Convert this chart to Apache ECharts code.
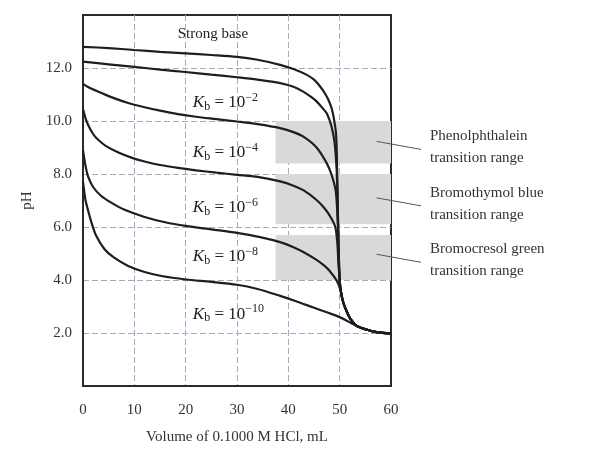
<!DOCTYPE html>
<html>
<head>
<meta charset="utf-8">
<script src="https://cdn.jsdelivr.net/npm/echarts@6/dist/echarts.min.js"></script>
<style>
  html, body { margin: 0; padding: 0; background: #fff; }
  #chart { width: 589px; height: 450px; }
</style>
</head>
<body>
<div id="chart"></div>
<script>
// volume of HCl (mL) vs pH
var strongBase = [[0,12.8],[5,12.75],[10,12.68],[15,12.61],[20,12.55],[25,12.49],[30,12.42],[34,12.31],[38.4,12.12],[41,11.96],[43.6,11.74],[45,11.56],[46.2,11.3],[47.2,11.02],[47.8,10.8],[48.4,10.5],[48.8,10.17],[49.3,9.5],[49.5,8.2],[49.65,6.5],[49.8,4.8],[50,4],[50.2,3.6],[50.7,3.15],[51.4,2.8],[52.2,2.5],[53.3,2.27],[55.2,2.13],[57.2,2.03],[60,1.98]];
var kb2 = [[0,12.24],[5,12.14],[10,12.04],[15,11.94],[20,11.85],[25,11.75],[30,11.65],[34,11.56],[38.4,11.43],[41,11.29],[42.9,11.11],[44.5,10.9],[45.5,10.74],[46.6,10.5],[47.5,10.28],[48.4,9.8],[49,9.2],[49.4,8.2],[49.6,7],[49.75,5.6],[49.9,4.4],[50,4],[50.2,3.6],[50.7,3.15],[51.4,2.8],[52.2,2.5],[53.3,2.27],[55.2,2.13],[57.2,2.03],[60,1.98]];
var kb4 = [[0,11.4],[1,11.28],[2.9,11.11],[5.5,10.9],[8.8,10.68],[12,10.52],[15,10.39],[18.5,10.26],[22,10.16],[26,10.07],[30,9.98],[34,9.88],[38.4,9.73],[41,9.58],[43,9.4],[45.5,9.0],[47.5,8.4],[48.4,7.98],[49.2,7.4],[49.5,6.7],[49.7,5.8],[49.85,4.8],[50,4],[50.2,3.6],[50.7,3.15],[51.4,2.8],[52.2,2.5],[53.3,2.27],[55.2,2.13],[57.2,2.03],[60,1.98]];
var kb6 = [[0,10.45],[0.5,10.1],[1,9.85],[2,9.5],[2.9,9.3],[4.5,9.05],[7,8.8],[9.7,8.6],[12,8.47],[15,8.34],[18.5,8.23],[22,8.14],[26,8.05],[30,7.97],[34,7.89],[38.4,7.72],[41,7.56],[43,7.38],[45.5,7.02],[47,6.72],[48.1,6.42],[49.1,6.03],[49.5,5.5],[49.75,4.7],[50,4],[50.2,3.6],[50.7,3.15],[51.4,2.8],[52.2,2.5],[53.3,2.27],[55.2,2.13],[57.2,2.03],[60,1.98]];
var kb8 = [[0,8.9],[0.5,8.3],[1,7.9],[2,7.5],[3.5,7.18],[5.5,6.92],[8,6.66],[12,6.38],[16,6.18],[20,6.04],[25,5.91],[30,5.78],[34.5,5.62],[38.4,5.43],[41,5.24],[43,5.05],[45.5,4.76],[47,4.54],[48.1,4.33],[49.4,3.98],[50.2,3.6],[50.7,3.15],[51.4,2.8],[52.2,2.5],[53.3,2.27],[55.2,2.13],[57.2,2.03],[60,1.98]];
var kb10 = [[0,7.7],[0.5,7.0],[1,6.62],[1.6,6.2],[2.5,5.7],[4.2,5.16],[6,4.85],[8.8,4.53],[12,4.3],[15.3,4.15],[20,4.02],[25,3.93],[30,3.82],[34,3.66],[38.4,3.4],[41.5,3.2],[44.9,2.96],[47.5,2.78],[50.1,2.59],[51.7,2.43],[53.3,2.27],[55.2,2.13],[57.2,2.03],[60,1.98]];

var curveNames = ['Strong base', 'Kb = 10^-2', 'Kb = 10^-4', 'Kb = 10^-6', 'Kb = 10^-8', 'Kb = 10^-10'];
var curveData = [strongBase, kb2, kb4, kb6, kb8, kb10];
var kbExponents = ['−2', '−4', '−6', '−8', '−10'];

// indicator transition ranges (pH) and the volume span of their shading
var indicatorNames = ['Phenolphthalein', 'Bromothymol blue', 'Bromocresol green'];
var indicatorLow = [8.4, 6.1, 4.0];
var indicatorHigh = [10.0, 8.0, 5.7];
var shadeFrom = 37.5, shadeTo = 60;

var serif = '"Liberation Serif", "DejaVu Serif", serif';
var chart = echarts.init(document.getElementById('chart'));

var series = curveData.map(function (d, i) {
    var s = {
        name: curveNames[i],
        type: 'line',
        data: d,
        showSymbol: false,
        smooth: 0.3,
        z: 5,
        lineStyle: { color: '#1e1e1e', width: 2.2 }
    };
    if (i === 0) {
        s.markArea = {
            silent: true,
            itemStyle: { color: '#d9d9d9' },
            data: indicatorNames.map(function (n, k) {
                return [{ xAxis: shadeFrom, yAxis: indicatorLow[k] }, { xAxis: shadeTo, yAxis: indicatorHigh[k] }];
            })
        };
    }
    return s;
});

var gridLine = { show: true, showMinLine: false, showMaxLine: false,
    lineStyle: { color: '#a4a9c4', type: [6, 3], width: 1 } };

chart.setOption({
    animation: false,
    grid: {
        left: 83, right: 198, top: 15, bottom: 63,
        show: true, borderColor: '#2a2a2a', borderWidth: 2
    },
    xAxis: {
        type: 'value', min: 0, max: 60, interval: 10,
        name: 'Volume of 0.1000 M HCl, mL',
        nameLocation: 'middle', nameGap: 44,
        nameTextStyle: { fontFamily: serif, fontSize: 15, color: '#333' },
        axisLine: { lineStyle: { color: '#2a2a2a', width: 2 } },
        axisTick: { show: false },
        axisLabel: { fontFamily: serif, fontSize: 15, color: '#333', margin: 17 },
        splitLine: gridLine
    },
    yAxis: {
        type: 'value', min: 0, max: 14, interval: 2,
        name: 'pH',
        nameLocation: 'middle', nameGap: 44,
        nameTextStyle: { fontFamily: serif, fontSize: 15, color: '#333' },
        axisLine: { show: true, lineStyle: { color: '#2a2a2a', width: 2 } },
        axisTick: { show: false },
        axisLabel: {
            fontFamily: serif, fontSize: 15, color: '#333', margin: 11,
            formatter: function (v) { return (v === 0 || v === 14) ? '' : v.toFixed(1); }
        },
        splitLine: gridLine
    },
    series: series
});

// curve labels and indicator captions
var kbLabelPos = [[21.4, 10.69], [21.4, 8.81], [21.4, 6.74], [21.4, 4.89], [21.4, 2.71]];
var strongLabelPos = [25.3, 13.28];
var leaderStart = [[57.2, 9.23], [57.2, 7.1], [57.2, 4.97]];

var graphics = [];
var sp = chart.convertToPixel({ gridIndex: 0 }, strongLabelPos);
graphics.push({
    type: 'text', x: sp[0], y: sp[1], z: 10,
    style: { text: 'Strong base', font: '15px ' + serif, fill: '#222', align: 'center', verticalAlign: 'middle' }
});
kbLabelPos.forEach(function (p, i) {
    var px = chart.convertToPixel({ gridIndex: 0 }, p);
    graphics.push({
        type: 'text', x: px[0], y: px[1], z: 10,
        style: {
            text: '{k|K}{b|b}{t| = 10}{e|' + kbExponents[i] + '}',
            align: 'left', verticalAlign: 'middle',
            rich: {
                k: { fontFamily: serif, fontStyle: 'italic', fontSize: 17, fill: '#222', lineHeight: 22 },
                b: { fontFamily: serif, fontSize: 12, fill: '#222', verticalAlign: 'bottom', lineHeight: 22, padding: [0, 0, 1, 0] },
                t: { fontFamily: serif, fontSize: 17, fill: '#222', lineHeight: 22 },
                e: { fontFamily: serif, fontSize: 12, fill: '#222', verticalAlign: 'top', lineHeight: 22 }
            }
        }
    });
});
indicatorNames.forEach(function (n, i) {
    var a = chart.convertToPixel({ gridIndex: 0 }, leaderStart[i]);
    var endX = 421, endY = a[1] + 8;
    graphics.push({
        type: 'line', z: 10,
        shape: { x1: a[0], y1: a[1], x2: endX, y2: endY },
        style: { stroke: '#555', lineWidth: 1 }
    });
    graphics.push({
        type: 'text', x: 430, y: endY - 2, z: 10,
        style: { text: n + '\ntransition range', font: '15px ' + serif, fill: '#333',
            lineHeight: 22, align: 'left', verticalAlign: 'middle' }
    });
});
chart.setOption({ graphic: graphics });
</script>
</body>
</html>
